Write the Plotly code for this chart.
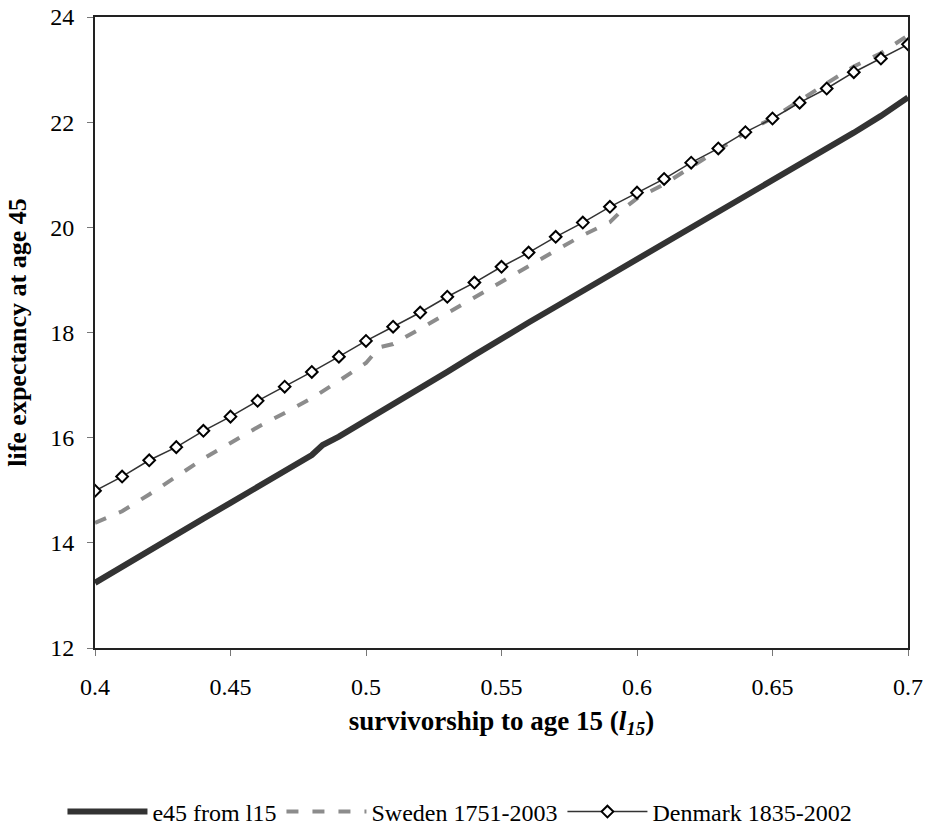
import plotly.graph_objects as go

# e45 from l15 (thick dark line)
e45_x = [0.40, 0.41, 0.42, 0.43, 0.44, 0.45, 0.46, 0.47, 0.48, 0.484, 0.49, 0.50,
         0.51, 0.52, 0.53, 0.54, 0.55, 0.56, 0.57, 0.58, 0.59, 0.60, 0.605, 0.61,
         0.62, 0.63, 0.64, 0.65, 0.66, 0.67, 0.68, 0.69, 0.70]
e45_y = [13.24, 13.55, 13.87, 14.17, 14.46, 14.76, 15.06, 15.36, 15.67, 15.86, 16.02, 16.33,
         16.63, 16.93, 17.25, 17.57, 17.89, 18.19, 18.49, 18.79, 19.08, 19.38, 19.55, 19.70,
         19.99, 20.29, 20.59, 20.89, 21.17, 21.47, 21.80, 22.12, 22.47]

# Sweden 1751-2003 (grey dashed)
swe_x = [0.40, 0.41, 0.42, 0.43, 0.44, 0.45, 0.46, 0.47, 0.48, 0.49, 0.50, 0.505,
         0.51, 0.52, 0.53, 0.54, 0.55, 0.56, 0.57, 0.58, 0.59, 0.595, 0.60, 0.61,
         0.62, 0.63, 0.64, 0.65, 0.66, 0.67, 0.68, 0.69, 0.70]
swe_y = [14.38, 14.60, 14.92, 15.27, 15.60, 15.90, 16.20, 16.47, 16.75, 17.08, 17.42, 17.72,
         17.78, 18.07, 18.37, 18.68, 18.98, 19.28, 19.56, 19.85, 20.10, 20.35, 20.55, 20.82,
         21.15, 21.47, 21.80, 22.08, 22.42, 22.74, 23.06, 23.31, 23.65]

# Denmark 1835-2002 (thin line with diamond markers)
den_x = [0.40, 0.41, 0.42, 0.43, 0.44, 0.45, 0.46, 0.47, 0.48, 0.49, 0.50,
         0.51, 0.52, 0.53, 0.54, 0.55, 0.56, 0.57, 0.58, 0.59, 0.60,
         0.61, 0.62, 0.63, 0.64, 0.65, 0.66, 0.67, 0.68, 0.69, 0.70]
den_y = [14.99, 15.26, 15.57, 15.82, 16.13, 16.40, 16.70, 16.97, 17.25, 17.54, 17.84,
         18.11, 18.38, 18.68, 18.95, 19.25, 19.52, 19.82, 20.09, 20.39, 20.66,
         20.92, 21.23, 21.50, 21.81, 22.07, 22.37, 22.64, 22.95, 23.21, 23.48]

x_ticks = [0.4, 0.45, 0.5, 0.55, 0.6, 0.65, 0.7]
x_tick_labels = ["0.4", "0.45", "0.5", "0.55", "0.6", "0.65", "0.7"]
y_ticks = [12, 14, 16, 18, 20, 22, 24]

FONT = "Liberation Serif"

fig = go.Figure()
fig.add_trace(go.Scatter(
    x=e45_x, y=e45_y, mode="lines", name="e45 from l15",
    line=dict(color="#333333", width=6),
))
fig.add_trace(go.Scatter(
    x=swe_x, y=swe_y, mode="lines", name="Sweden 1751-2003",
    line=dict(color="#8c8c8c", width=4, dash="12px,14px"),
))
fig.add_trace(go.Scatter(
    x=den_x, y=den_y, mode="lines+markers", name="Denmark 1835-2002",
    line=dict(color="#333333", width=1.5),
    marker=dict(symbol="diamond", size=9, color="white",
                line=dict(color="black", width=2)),
))

fig.update_layout(
    width=933, height=840,
    margin=dict(l=95, r=25, t=17, b=192, autoexpand=False),
    paper_bgcolor="white", plot_bgcolor="white",
    font=dict(family=FONT, size=24, color="black"),
    showlegend=True,
    legend=dict(
        orientation="h", xref="container", yref="container",
        x=0.493, xanchor="center", y=1 - 812 / 840, yanchor="middle",
        font=dict(family=FONT, size=24, color="black"),
        itemwidth=80, tracegroupgap=0, bgcolor="rgba(0,0,0,0)",
    ),
    xaxis=dict(
        range=[0.4, 0.7], tickvals=x_ticks, ticktext=x_tick_labels,
        showgrid=False, zeroline=False, automargin=False,
        showline=True, linecolor="#222222", linewidth=2, mirror=True,
        ticks="outside", ticklen=6, tickcolor="#777777", tickwidth=1,
        ticklabelstandoff=10,
        tickfont=dict(family=FONT, size=24),
        title=dict(text="<b>survivorship to age 15 (<i>l</i><sub><i>15</i></sub>)</b>",
                   font=dict(family=FONT, size=27), standoff=12),
    ),
    yaxis=dict(
        range=[12, 24], tickvals=y_ticks,
        showgrid=False, zeroline=False, automargin=False,
        showline=True, linecolor="#222222", linewidth=2, mirror=True,
        ticks="outside", ticklen=6, tickcolor="#777777", tickwidth=1,
        ticklabelstandoff=8,
        tickfont=dict(family=FONT, size=24),
        title=dict(text="<b>life expectancy at age 45</b>",
                   font=dict(family=FONT, size=26), standoff=16),
    ),
)

fig.write_html("out.html")
